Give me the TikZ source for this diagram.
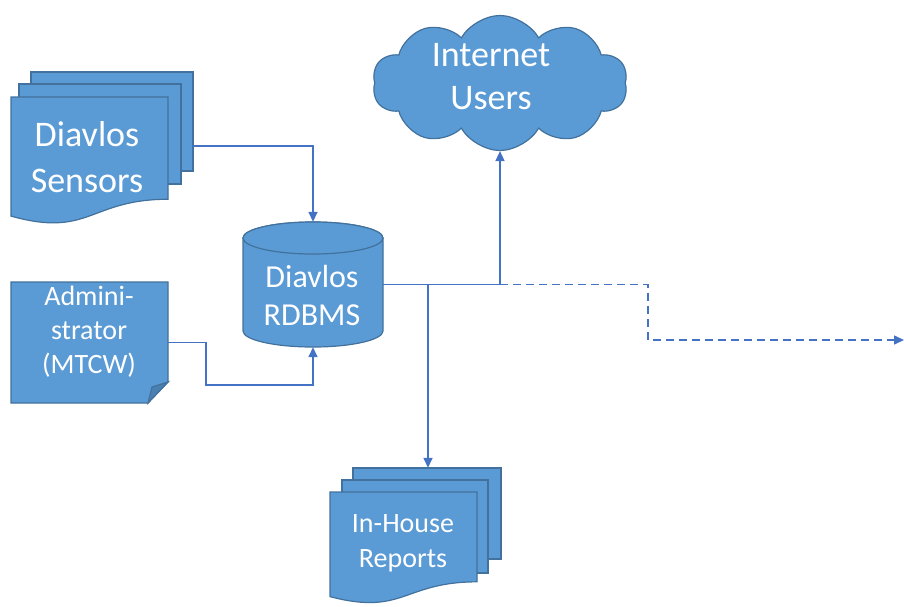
\documentclass[tikz,border=0pt]{standalone}
\usepackage{fontspec}
\setmainfont{Carlito}
\usetikzlibrary{arrows.meta,shapes.symbols}
\definecolor{boxfill}{HTML}{5B9BD5}
\definecolor{boxline}{HTML}{41719C}
\definecolor{foldfill}{HTML}{4A7FB2}
\definecolor{linkcol}{HTML}{4472C4}

% page with a wavy bottom: left, top, right, height
\newcommand{\docpage}[4]{%
  \filldraw[page] (#1,#2) -- (#3,#2) -- (#3,{#2+0.802*#4})
    .. controls ({(#1+#3)/2},{#2+0.802*#4}) and ({(#1+#3)/2},{#2+1.107*#4}) .. (#1,{#2+0.934*#4}) -- cycle;}

\begin{document}
\begin{tikzpicture}[x=1pt, y=-1pt, page/.style={fill=boxfill, draw=boxline, line width=1.2pt}, hitbox/.style={inner sep=0pt, draw=none}, whitetext/.style={text=white, align=center, inner sep=0pt}, link/.style={draw=linkcol, line width=1.5pt, -{Triangle[length=10pt, width=9pt]}}]

                        \useasboundingbox (0,0) rectangle (904,606);

                        % multi page shapes
                        \filldraw[page] (31,72) rectangle (193,171);
                        \filldraw[page] (19,84) rectangle (181,184);
                        \docpage{11}{97}{168}{127.5}

                        \filldraw[page] (353,468) rectangle (501,559);
                        \filldraw[page] (342,480) rectangle (488,573);
                        \docpage{330}{492}{477}{112}

                        \filldraw[page] (11,282) -- (168,282) -- (168,382) -- (148,403) -- (11,403) -- cycle;
                        \filldraw[page, fill=foldfill] (168,382) -- (152,387) -- (148,403) -- cycle;

                        % database drum
                        \filldraw[page] (243,238) -- (243,331) arc[start angle=180, end angle=0, x radius=70, y radius=16] -- (383,238) arc[start angle=0, end angle=-180, x radius=70, y radius=16] -- cycle;
                        \filldraw[page] (313,238) ellipse [x radius=70, y radius=16];

                        \node[hitbox, minimum width=182pt, minimum height=148pt] at (102,146) (sensors) {};
                        \node[hitbox, minimum width=171pt, minimum height=136pt] at (415.5,536) (reports) {};
                        \node[hitbox, minimum width=157pt, minimum height=121pt] at (89.5,342.5) (admin) {};
                        \node[hitbox, minimum width=140pt, minimum height=125pt] at (313,284.5) (db) {};
                        \node[page, cloud, cloud puffs=10, cloud puff arc=120, aspect=1.9, minimum width=255pt, minimum height=135pt] at (500,83) (cloud) {};

                        \node[whitetext, font=\fontsize{36}{46}\selectfont] at (87,157) (sensorslabel) {Diavlos\\Sensors};
                        \node[whitetext, font=\fontsize{36}{43}\selectfont] at (491,77) (cloudlabel) {Internet\\Users};
                        \node[whitetext, font=\fontsize{32}{38}\selectfont] at (312,295) (dblabel) {Diavlos\\RDBMS};
                        \node[whitetext, font=\fontsize{28}{34}\selectfont] at (89,332) (adminlabel) {Admini-\\strator\\(MTCW)};
                        \node[whitetext, font=\fontsize{28}{35}\selectfont] at (403,543) (reportslabel) {In-House\\Reports};

                        \coordinate (tap) at (428,285);
                        \coordinate (bend) at (648,340);
                        \coordinate (offpage) at (904,340);
                        \coordinate (admturn) at (206,385);

                        \draw[link] (sensors.east) -| (db.north);
                        \draw[link] (admin.east) -| (admturn) -| (db.south);
                        \draw[link] (db.east) -| (cloud.south);
                        \draw[link] (tap) -- (tap |- reports.north);
                        \draw[link, dash pattern=on 8pt off 5pt] (cloud.south |- db.east) -| (bend) -- (offpage);

                    \end{tikzpicture}
\end{document}
